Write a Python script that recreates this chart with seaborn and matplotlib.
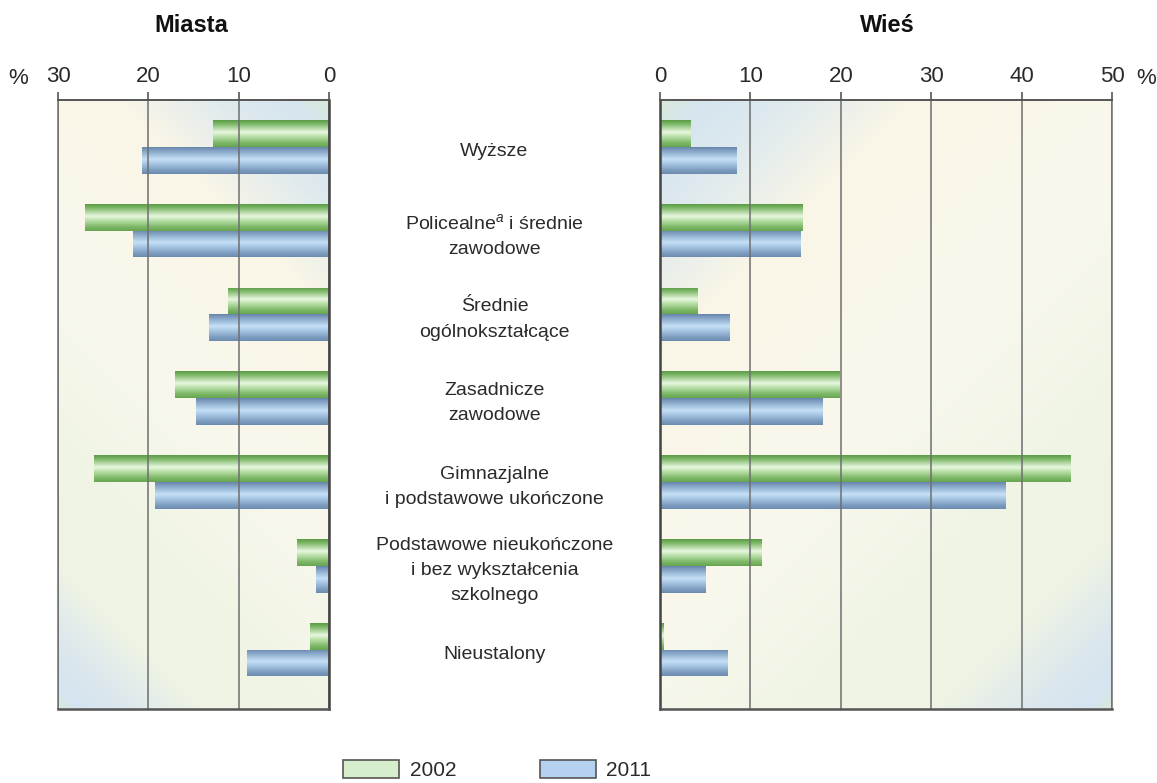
import numpy as np
import pandas as pd
import matplotlib
matplotlib.use("Agg")
import matplotlib.pyplot as plt
import seaborn as sns
from matplotlib.colors import LinearSegmentedColormap, to_rgba
from matplotlib.patches import Patch
from matplotlib.transforms import blended_transform_factory

# ---------------- data ----------------
categories = [
    "Wyższe",
    "Policealne$^{a}$ i średnie\nzawodowe",
    "Średnie\nogólnokształcące",
    "Zasadnicze\nzawodowe",
    "Gimnazjalne\ni podstawowe ukończone",
    "Podstawowe nieukończone\ni bez wykształcenia\nszkolnego",
    "Nieustalony",
]
years = ["2002", "2011"]
miasta_2002 = [12.8, 27.0, 11.2, 17.1, 26.0, 3.5, 2.1]
miasta_2011 = [20.7, 21.7, 13.3, 14.7, 19.3, 1.4, 9.1]
wies_2002 = [3.4, 15.8, 4.1, 19.9, 45.4, 11.2, 0.4]
wies_2011 = [8.5, 15.5, 7.7, 18.0, 38.2, 5.0, 7.5]
miasta_ticks = [0, 10, 20, 30]
wies_ticks = [0, 10, 20, 30, 40, 50]
title_miasta = "Miasta"
title_wies = "Wieś"

def long_df(v02, v11):
    return pd.DataFrame({
        "cat": categories * 2,
        "year": [years[0]] * len(categories) + [years[1]] * len(categories),
        "val": list(v02) + list(v11),
    })

df_m = long_df(miasta_2002, miasta_2011)
df_w = long_df(wies_2002, wies_2011)

# ---------------- style ----------------
sns.set_theme(style="white")
plt.rcParams["font.family"] = ["Liberation Sans", "DejaVu Sans"]
plt.rcParams["mathtext.fontset"] = "custom"
plt.rcParams["mathtext.it"] = "Liberation Sans:italic"
plt.rcParams["mathtext.rm"] = "Liberation Sans"
NARROW = ["Liberation Sans Narrow", "Liberation Sans", "DejaVu Sans"]
TXT = "#2a2a2a"
GRID = "#6e6e6e"

GREEN = "#8cc377"
BLUE = "#9dbcdc"
palette = {years[0]: GREEN, years[1]: BLUE}

green_cmap = LinearSegmentedColormap.from_list("g", [
    (0.0, "#5c9c47"), (0.15, "#80ba6b"), (0.45, "#e8f7e0"),
    (0.6, "#bde2ad"), (0.85, "#7db867"), (1.0, "#68a552")])
blue_cmap = LinearSegmentedColormap.from_list("b", [
    (0.0, "#6786aa"), (0.15, "#87a7c8"), (0.45, "#c6e0f6"),
    (0.6, "#abc9e7"), (0.85, "#7f9fc2"), (1.0, "#6c8baf")])

bg_cmap = LinearSegmentedColormap.from_list("bg", [
    (0.0, "#d8e9d9"), (0.04, "#d5e5ef"), (0.12, "#dfeaee"),
    (0.24, "#faf6e7"), (0.5, "#f9f8ed"), (0.68, "#f1f5e6"),
    (0.84, "#eef3e4"), (0.93, "#dbe7ee"), (0.98, "#d5e4f1"), (1.0, "#d8e9d9")])

W_FIG, H_FIG = 1157, 783
fig = plt.figure(figsize=(W_FIG / 100, H_FIG / 100), dpi=100)
fig.patch.set_facecolor("white")

top_px, bot_px = 100, 709
def axes_rect(x0, x1):
    return [x0 / W_FIG, 1 - bot_px / H_FIG, (x1 - x0) / W_FIG, (bot_px - top_px) / H_FIG]

axL = fig.add_axes(axes_rect(58, 329))
axR = fig.add_axes(axes_rect(660, 1112))

YLIM = (6.71, -0.56)

def background(ax, wpx, hpx, mirror):
    n = 300
    u = np.linspace(0, 1, n)[None, :]
    v = np.linspace(1, 0, n)[:, None]  # row 0 = top
    uu = (1 - u) if mirror else u
    t = (uu * wpx + (1 - v) * hpx) / (wpx + hpx)
    img = bg_cmap(t)
    ax.imshow(img, extent=(0, 1, 0, 1), transform=ax.transAxes, aspect="auto",
              interpolation="bilinear", zorder=0.1)

def draw_panel(ax, df, xlim, ticks, mirror, wpx):
    sns.barplot(data=df, y="cat", x="val", hue="year", orient="h", ax=ax,
                palette=palette, width=0.64, legend=False, saturation=1,
                linewidth=0, errorbar=None)
    prof = np.linspace(0, 1, 64)
    for p in list(ax.patches):
        fc = p.get_facecolor()
        cmap = green_cmap if np.allclose(fc[:3], to_rgba(GREEN)[:3], atol=0.02) else blue_cmap
        x0, y0, w, h = p.get_x(), p.get_y(), p.get_width(), p.get_height()
        if w == 0:
            continue
        grad = cmap(prof)[:, None, :]
        im = ax.imshow(grad, extent=(x0, x0 + w, y0 + h, y0), origin="upper",
                       aspect="auto", interpolation="bilinear", zorder=2.2)
        im.set_clip_path(p)
        p.set_zorder(2)
    background(ax, wpx, bot_px - top_px, mirror)
    ax.set_xlim(*xlim)
    ax.set_ylim(*YLIM)
    ax.set_xticks(ticks)
    ax.set_xticklabels([str(t) for t in ticks], fontfamily=NARROW, fontsize=16, color=TXT)
    ax.xaxis.tick_top()
    ax.tick_params(axis="x", direction="out", length=6, width=1.2, color="#555555",
                   pad=3, top=True, bottom=False)
    ax.set_yticks([])
    ax.set_xlabel("")
    ax.set_ylabel("")
    ax.grid(axis="x", color=GRID, linewidth=1.1)
    ax.grid(axis="y", visible=False)
    ax.set_axisbelow(False)
    for gl in ax.get_xgridlines():
        gl.set_zorder(1.5)
    for side in ["top", "bottom", "left", "right"]:
        ax.spines[side].set_visible(True)
        ax.spines[side].set_color(GRID)
        ax.spines[side].set_linewidth(1.1)
        ax.spines[side].set_zorder(3)
    ax.spines["bottom"].set_color("#555555")
    ax.spines["bottom"].set_linewidth(1.8)
    ax.spines["top"].set_color("#555555")
    ax.spines["top"].set_linewidth(1.4)

draw_panel(axL, df_m, (30, 0), miasta_ticks, True, 329 - 58)
draw_panel(axR, df_w, (0, 50), wies_ticks, False, 1112 - 660)
axL.spines["right"].set_color("#444444")
axL.spines["right"].set_linewidth(1.8)
axR.spines["left"].set_color("#444444")
axR.spines["left"].set_linewidth(1.8)

# category labels between panels
trans = blended_transform_factory(fig.transFigure, axL.transData)
for i, c in enumerate(categories):
    axL.text(494.5 / W_FIG, i + 0.06, c, transform=trans, ha="center", va="center",
             fontsize=14, color=TXT, linespacing=1.62, clip_on=False)

# titles and % signs
fig.text(191 / W_FIG, 1 - 25 / H_FIG, title_miasta, ha="center", va="center",
         fontsize=17, fontweight="bold", fontfamily=NARROW, color="#111111")
fig.text(887 / W_FIG, 1 - 25 / H_FIG, title_wies, ha="center", va="center",
         fontsize=17, fontweight="bold", fontfamily=NARROW, color="#111111")
fig.text(18 / W_FIG, 1 - 79 / H_FIG, "%", ha="center", va="center",
         fontsize=16, fontfamily=NARROW, color=TXT)
fig.text(1146 / W_FIG, 1 - 79 / H_FIG, "%", ha="center", va="center",
         fontsize=16, fontfamily=NARROW, color=TXT)

# legend
handles = [Patch(facecolor="#d6eecb", edgecolor="#555555", linewidth=1.2, label=years[0]),
           Patch(facecolor="#b4d2ef", edgecolor="#555555", linewidth=1.2, label=years[1])]
fig.legend(handles=handles, loc="lower left", bbox_to_anchor=(343 / W_FIG, 3 / H_FIG),
           ncol=2, frameon=False, fontsize=15, handlelength=2.7, handleheight=1.0,
           handletextpad=0.5, columnspacing=4.0, borderpad=0, borderaxespad=0,
           prop={"family": NARROW, "size": 15})
for t in fig.legends[0].get_texts():
    t.set_color(TXT)

fig.savefig("out.png", dpi=100, facecolor="white")
